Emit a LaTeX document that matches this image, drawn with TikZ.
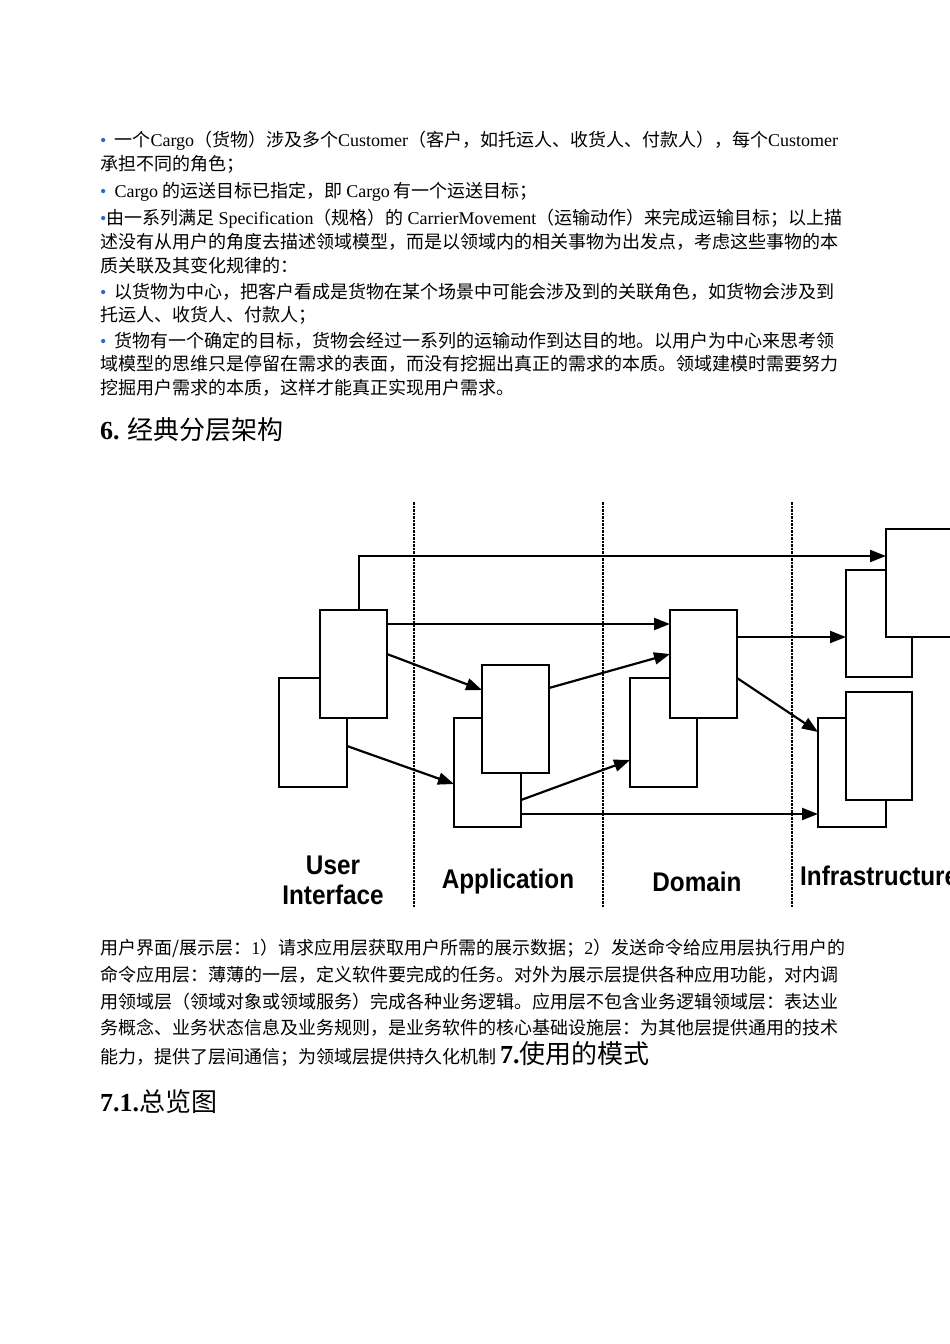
\documentclass[tikz,border=0pt]{standalone}
\usepackage{fontspec}
\setmainfont{Noto Sans CJK SC}
\newfontfamily\lat{Liberation Serif}
\newfontfamily\lab{Liberation Sans}
\usetikzlibrary{arrows.meta}
\definecolor{bul}{RGB}{40,110,200}
\newcommand{\bu}{{\lat\color{bul}•}}
\begin{document}
\begin{tikzpicture}[x=1pt,y=-1pt,
  txt/.style={anchor=west,inner sep=0pt,font=\fontsize{18}{20}\selectfont},
  bx/.style={draw,fill=white,line width=2pt},
  ar/.style={line width=2.2pt,-{Triangle[length=16pt,width=12pt]}},
  sep/.style={line width=1.3pt,dash pattern=on 2.5pt off 1pt},
  lbl/.style={font=\lab\bfseries\fontsize{27}{30}\selectfont,xscale=0.9,align=center,inner sep=0pt}]
\useasboundingbox (0,0) rectangle (950,1344);
\clip (0,0) rectangle (950,1344);
\fill[white] (0,0) rectangle (950,1344);
% text
\node[txt] (t1) at (100,141) {\bu\ \ 一个{\lat Cargo}（货物）涉及多个{\lat Customer}（客户，如托运人、收货人、付款人），每个{\lat Customer}};
\node[txt] (t2) at (100,164) {承担不同的角色；};
\node[txt] (t3) at (100,192) {\bu\ \ {\lat Cargo} 的运送目标已指定，即 {\lat Cargo} 有一个运送目标；};
\node[txt] (t4) at (100,219) {\bu 由一系列满足 {\lat Specification}（规格）的 {\lat CarrierMovement}（运输动作）来完成运输目标；以上描};
\node[txt] (t5) at (100,242) {述没有从用户的角度去描述领域模型，而是以领域内的相关事物为出发点，考虑这些事物的本};
\node[txt] (t6) at (100,266) {质关联及其变化规律的：};
\node[txt] (t7) at (100,292) {\bu\ \ 以货物为中心，把客户看成是货物在某个场景中可能会涉及到的关联角色，如货物会涉及到};
\node[txt] (t8) at (100,315) {托运人、收货人、付款人；};
\node[txt] (t9) at (100,341) {\bu\ \ 货物有一个确定的目标，货物会经过一系列的运输动作到达目的地。以用户为中心来思考领};
\node[txt] (t10) at (100,364) {域模型的思维只是停留在需求的表面，而没有挖掘出真正的需求的本质。领域建模时需要努力};
\node[txt] (t11) at (100,388) {挖掘用户需求的本质，这样才能真正实现用户需求。};
\node[txt,font=\fontsize{26}{28}\selectfont] (h6) at (100,430) {{\lat\bfseries 6.} 经典分层架构};
\node[txt] (b1) at (100,948) {用户界面/展示层：{\lat 1}）请求应用层获取用户所需的展示数据；{\lat 2}）发送命令给应用层执行用户的};
\node[txt] (b2) at (100,975) {命令应用层：薄薄的一层，定义软件要完成的任务。对外为展示层提供各种应用功能，对内调};
\node[txt] (b3) at (100,1002) {用领域层（领域对象或领域服务）完成各种业务逻辑。应用层不包含业务逻辑领域层：表达业};
\node[txt] (b4) at (100,1028) {务概念、业务状态信息及业务规则，是业务软件的核心基础设施层：为其他层提供通用的技术};
\node[txt] (b5) at (100,1054) {能力，提供了层间通信；为领域层提供持久化机制 {\fontsize{26}{28}\selectfont{\lat\bfseries 7.}使用的模式}};
\node[txt,font=\fontsize{26}{28}\selectfont] (h7) at (100,1102) {{\lat\bfseries 7.1.}总览图};
% separators
\draw[sep] (414,502) -- (414,907);
\draw[sep] (603,502) -- (603,907);
\draw[sep] (792,502) -- (792,907);
% boxes
\draw[bx] (279,678) rectangle (347,787);
\draw[bx] (320,610) rectangle (387,718);
\draw[bx] (454,718) rectangle (521,827);
\draw[bx] (482,665) rectangle (549,773);
\draw[bx] (630,678) rectangle (697,787);
\draw[bx] (670,610) rectangle (737,718);
\draw[bx] (846,570) rectangle (912,677);
\draw[bx] (886,529) rectangle (980,637);
\draw[bx] (818,718) rectangle (886,827);
\draw[bx] (846,692) rectangle (912,800);
% connector endpoints
\coordinate (uiTop) at (359,610);
\coordinate (bend) at (359,556);
\coordinate (infTop) at (886,556);
\coordinate (uiF1) at (387,624); \coordinate (dmF1) at (670,624);
\coordinate (uiF2) at (387,654); \coordinate (apF) at (482,690);
\coordinate (uiB1) at (347,746); \coordinate (apB) at (454,784);
\coordinate (apF2) at (549,688); \coordinate (dmF2) at (670,654);
\coordinate (apB2) at (521,800); \coordinate (dmB) at (630,760);
\coordinate (apB3) at (521,814); \coordinate (infLow) at (818,814);
\coordinate (dmF3) at (737,637); \coordinate (infMid) at (846,637);
\coordinate (dmF4) at (737,678); \coordinate (infLow2) at (818,732);
\draw[ar] (uiTop) -- (bend) -- (infTop);
\draw[ar] (uiF1) -- (dmF1);
\draw[ar] (uiF2) -- (apF);
\draw[ar] (uiB1) -- (apB);
\draw[ar] (apF2) -- (dmF2);
\draw[ar] (apB2) -- (dmB);
\draw[ar] (apB3) -- (infLow);
\draw[ar] (dmF3) -- (infMid);
\draw[ar] (dmF4) -- (infLow2);
% labels
\node[lbl] (lui) at (333,880) {User\\Interface};
\node[lbl] (lap) at (508,882) {Application};
\node[lbl] (ldm) at (697,882) {Domain};
\node[lbl,anchor=west] (lin) at (800,876) {Infrastructure};
\end{tikzpicture}
\end{document}
